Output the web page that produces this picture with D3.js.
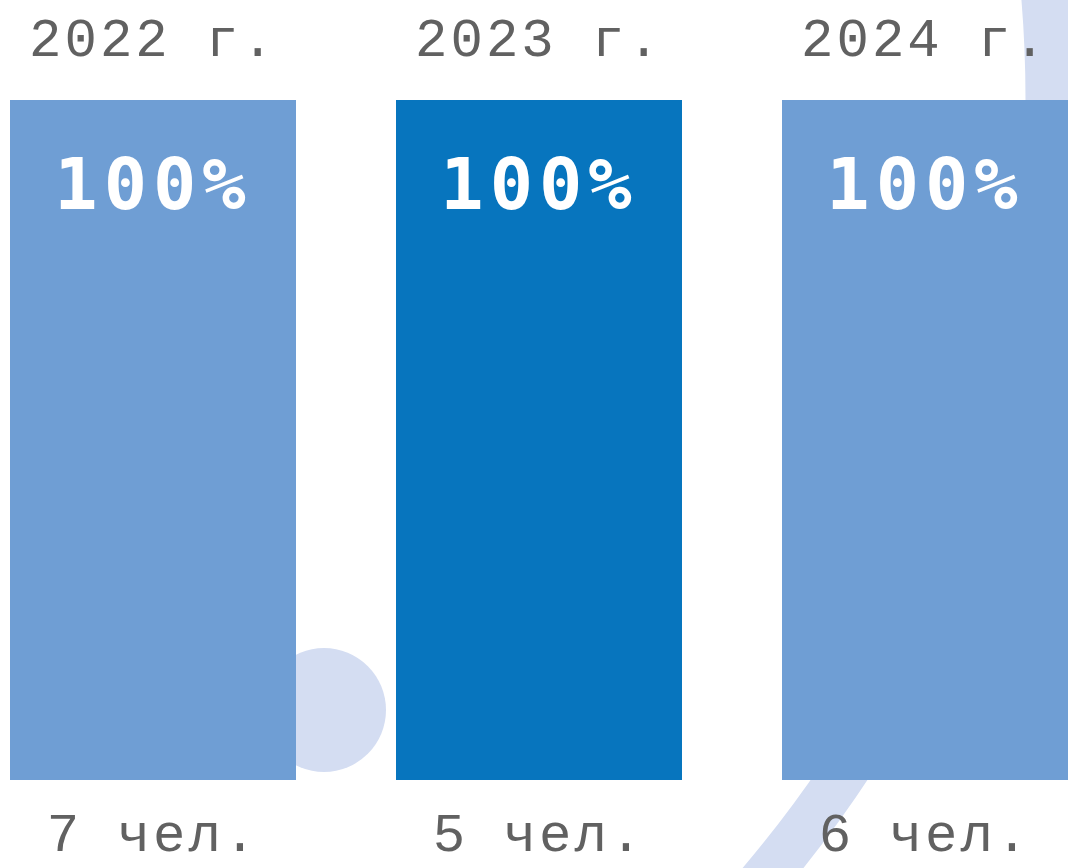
<!DOCTYPE html>
<html>
<head>
<meta charset="utf-8">
<script src="https://cdn.jsdelivr.net/npm/d3@7"></script>
<style>
  body { margin: 0; background: #fff; }
</style>
</head>
<body>
<div id="chart"></div>
<script>
// data
const years = ["2022 г.", "2023 г.", "2024 г."];
const shares = [100, 100, 100];
const people = [7, 5, 6];
const barColors = ["#6F9ED4", "#0775BE", "#6F9ED4"];

const width = 1068;
const height = 868;

const svg = d3.select("#chart")
    .append("svg")
    .attr("width", width)
    .attr("height", height);

// decorative shapes behind bars
svg.append("circle")
    .attr("cx", 324)
    .attr("cy", 710)
    .attr("r", 62)
    .style("fill", "#D4DDF2");

svg.append("circle")
    .attr("cx", -161)
    .attr("cy", 99)
    .attr("r", 1210)
    .style("fill", "none")
    .style("stroke", "#D4DDF2")
    .style("stroke-width", 47);

// scales
const x = d3.scaleBand()
    .domain(years)
    .range([10, 1068])
    .paddingInner(100 / 386)
    .paddingOuter(0);

const y = d3.scaleLinear()
    .domain([0, 100])
    .range([780, 100]);

const rows = years.map((yr, i) => ({ year: yr, share: shares[i], n: people[i], color: barColors[i] }));

// bars
svg.selectAll("rect.bar")
    .data(rows)
    .join("rect")
    .attr("class", "bar")
    .attr("x", d => x(d.year))
    .attr("y", d => y(d.share))
    .attr("width", x.bandwidth())
    .attr("height", d => y(0) - y(d.share))
    .style("fill", d => d.color);

const cx = d => x(d.year) + x.bandwidth() / 2;

// year labels
svg.selectAll("text.year")
    .data(rows)
    .join("text")
    .attr("class", "year")
    .attr("x", cx)
    .attr("y", 56)
    .attr("text-anchor", "middle")
    .style("font-family", "'Liberation Mono', monospace")
    .style("font-size", "54px")
    .style("letter-spacing", "3px")
    .style("fill", "#616161")
    .text(d => d.year);

// percent labels
svg.selectAll("text.share")
    .data(rows)
    .join("text")
    .attr("class", "share")
    .attr("x", cx)
    .attr("y", 209)
    .attr("text-anchor", "middle")
    .style("font-family", "'DejaVu Sans Mono', monospace")
    .style("font-weight", "bold")
    .style("font-size", "72px")
    .style("letter-spacing", "6px")
    .style("fill", "white")
    .text(d => d.share + "%");

// head count labels
svg.selectAll("text.count")
    .data(rows)
    .join("text")
    .attr("class", "count")
    .attr("x", cx)
    .attr("y", 851)
    .attr("text-anchor", "middle")
    .style("font-family", "'Liberation Mono', monospace")
    .style("font-size", "54px")
    .style("letter-spacing", "3px")
    .style("fill", "#616161")
    .text(d => d.n + " чел.");
</script>
</body>
</html>
